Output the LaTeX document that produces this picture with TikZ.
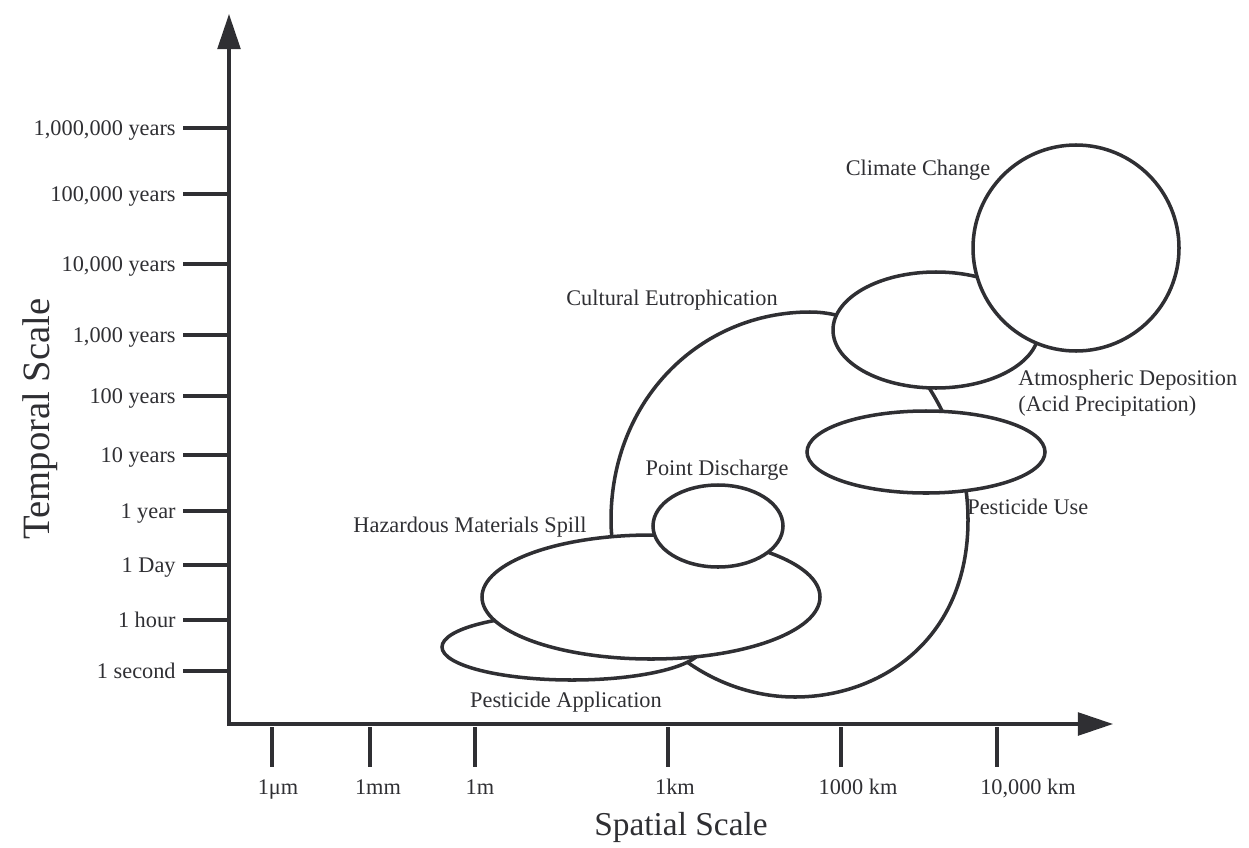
\documentclass[tikz,border=0pt]{standalone}
\usepackage{fontspec}
\setmainfont{Liberation Serif}
\usepackage{tikz}
\usetikzlibrary{arrows.meta}

\definecolor{ink}{HTML}{2F2F33}

\begin{document}
\begin{tikzpicture}[
    x=0.2mm, y=-0.2mm,
    zone/.style={draw=ink, fill=white, line width=2pt},
    axis/.style={draw=ink, line width=1.8pt, {Triangle[length=20pt,width=13pt]}-{Triangle[length=20pt,width=13pt]}},
    tickmark/.style={draw=ink, line width=1.9pt},
    lab/.style={text=ink, inner sep=0pt, font=\fontsize{12.7}{15}\selectfont},
    axistitle/.style={text=ink, inner sep=0pt}
  ]
    \useasboundingbox (0,0) rectangle (1249,847);
    \coordinate (origin) at (229,724);
    \coordinate (ytip) at (229,14);
    \coordinate (xtip) at (1113,724);
    \draw[axis] (ytip) -- (origin) -- (xtip);
    \foreach \yy/\lab in {128/{1,000,000 years}, 194/{100,000 years}, 264/{10,000 years}, 335/{1,000 years}, 396/{100 years}, 455/{10 years}, 511/{1 year}, 565/{1 Day}, 620/{1 hour}, 671/{1 second}} {
      \coordinate (yt\yy) at (183,\yy);
      \coordinate (ya\yy) at (229,\yy);
      \draw[tickmark] (yt\yy) -- (ya\yy);
      \node[lab, anchor=base east] (ylab\yy) at (176,\yy+7) {\lab};
    }
    \foreach \xx/\lx/\lab in {272/278/{1μm}, 370/378/{1mm}, 475/480/{1m}, 668/675/{1km}, 841/858/{1000 km}, 997/1028/{10,000 km}} {
      \coordinate (xt\xx) at (\xx,727);
      \coordinate (xb\xx) at (\xx,767);
      \draw[tickmark] (xt\xx) -- (xb\xx);
      \node[lab, anchor=base] (xlab\xx) at (\lx,794) {\lab};
    }
    \node[axistitle, font=\fontsize{19}{22}\selectfont] (xtitle) at (681,827) {Spatial Scale};
    \node[axistitle, font=\fontsize{22}{26}\selectfont, rotate=90] (ytitle) at (40,419) {Temporal Scale};

    \draw[zone] (611,520) .. controls (611,400) and (700,312) .. (810,312)
                .. controls (900,312) and (968,420) .. (968,520)
                .. controls (968,640) and (880,697) .. (795,697)
                .. controls (700,697) and (611,620) .. cycle;
    \draw[zone] (572,647) ellipse [x radius=130, y radius=33];
    \draw[zone] (651,597) ellipse [x radius=169, y radius=62];
    \draw[zone] (718,526) ellipse [x radius=65, y radius=41];
    \draw[zone] (936,330) ellipse [x radius=103, y radius=58];
    \draw[zone] (1076,248) circle [radius=103];
    \draw[zone] (926,452) ellipse [x radius=119, y radius=41];

    \node[lab] (climate) at (918,170) {Climate Change};
    \node[lab, anchor=west, align=left] (atmos) at (1018,393) {Atmospheric Deposition\\(Acid Precipitation)};
    \node[lab] (eutro) at (672,300) {Cultural Eutrophication};
    \node[lab] (pointdis) at (717,470) {Point Discharge};
    \node[lab, anchor=west] (pestuse) at (967,507) {Pesticide Use};
    \node[lab] (hazard) at (470,527) {Hazardous Materials Spill};
    \node[lab] (pestapp) at (566,702) {Pesticide Application};
\end{tikzpicture}
\end{document}
